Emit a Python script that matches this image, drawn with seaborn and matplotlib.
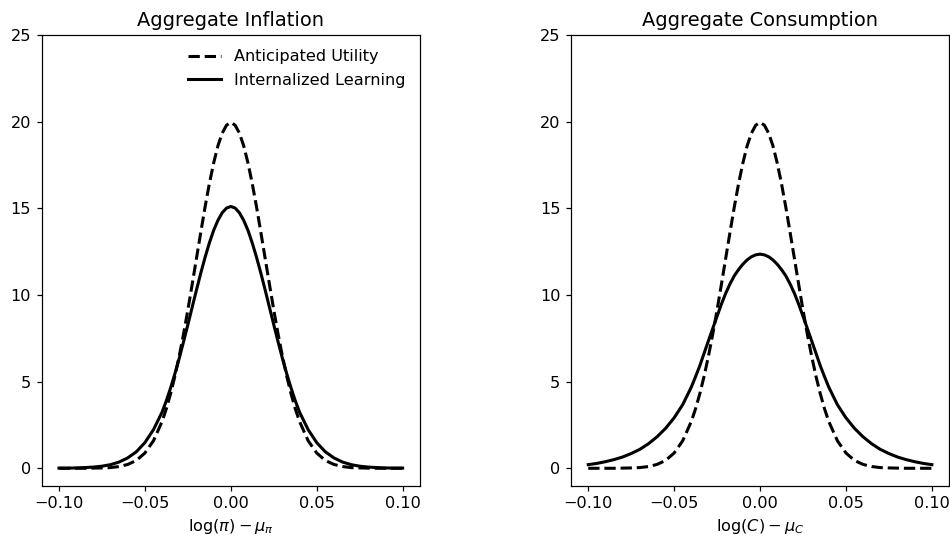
import numpy as np
import pandas as pd
import matplotlib
matplotlib.use("Agg")
import matplotlib.pyplot as plt
import seaborn as sns

# valeurs (densites symetriques autour de 0)
x_grid = [-0.1, -0.095, -0.09, -0.085, -0.08, -0.075, -0.07, -0.065, -0.06, -0.055,
          -0.05, -0.045, -0.04, -0.0375, -0.035, -0.0325, -0.03, -0.0275, -0.025,
          -0.0225, -0.02, -0.0175, -0.015, -0.0125, -0.01, -0.0075, -0.005, -0.0025,
          0.0,
          0.0025, 0.005, 0.0075, 0.01, 0.0125, 0.015, 0.0175, 0.02, 0.0225, 0.025,
          0.0275, 0.03, 0.0325, 0.035, 0.0375, 0.04, 0.045, 0.05, 0.055, 0.06,
          0.065, 0.07, 0.075, 0.08, 0.085, 0.09, 0.095, 0.1]

# Inflation - anticipated utility
infl_au = [0.0, 0.0, 0.0, 0.0, 0.01, 0.02, 0.04, 0.10, 0.22, 0.45,
           0.88, 1.59, 2.70, 3.44, 4.32, 5.33, 6.48, 7.75, 9.13,
           10.60, 12.10, 13.60, 15.06, 16.41, 17.60, 18.60, 19.33, 19.79,
           19.95,
           19.79, 19.33, 18.60, 17.60, 16.41, 15.06, 13.60, 12.10, 10.60, 9.13,
           7.75, 6.48, 5.33, 4.32, 3.44, 2.70, 1.59, 0.88, 0.45, 0.22,
           0.10, 0.04, 0.02, 0.01, 0.0, 0.0, 0.0, 0.0]

# Inflation - internalized learning
infl_il = [0.01, 0.01, 0.02, 0.04, 0.07, 0.12, 0.21, 0.36, 0.60, 0.95,
           1.48, 2.23, 3.24, 3.90, 4.65, 5.47, 6.35, 7.30, 8.28,
           9.28, 10.28, 11.25, 12.16, 12.99, 13.72, 14.30, 14.74, 15.01,
           15.10,
           15.01, 14.74, 14.30, 13.72, 12.99, 12.16, 11.25, 10.28, 9.28, 8.28,
           7.30, 6.35, 5.47, 4.65, 3.90, 3.24, 2.23, 1.48, 0.95, 0.60,
           0.36, 0.21, 0.12, 0.07, 0.04, 0.02, 0.01, 0.01]

# Consommation - anticipated utility
cons_au = [0.0, 0.0, 0.0, 0.0, 0.01, 0.02, 0.04, 0.10, 0.22, 0.45,
           0.88, 1.59, 2.70, 3.44, 4.32, 5.33, 6.48, 7.75, 9.13,
           10.60, 12.10, 13.60, 15.06, 16.41, 17.60, 18.60, 19.33, 19.79,
           19.95,
           19.79, 19.33, 18.60, 17.60, 16.41, 15.06, 13.60, 12.10, 10.60, 9.13,
           7.75, 6.48, 5.33, 4.32, 3.44, 2.70, 1.59, 0.88, 0.45, 0.22,
           0.10, 0.04, 0.02, 0.01, 0.0, 0.0, 0.0, 0.0]

# Consommation - internalized learning
cons_il = [0.21, 0.28, 0.38, 0.50, 0.65, 0.85, 1.09, 1.41, 1.81, 2.30,
           2.91, 3.67, 4.68, 5.29, 5.93, 6.65, 7.36, 8.07, 8.77,
           9.46, 10.09, 10.63, 11.10, 11.46, 11.77, 12.02, 12.20, 12.31,
           12.35,
           12.31, 12.20, 12.02, 11.77, 11.46, 11.10, 10.63, 10.09, 9.46, 8.77,
           8.07, 7.36, 6.65, 5.93, 5.29, 4.68, 3.67, 2.91, 2.30, 1.81,
           1.41, 1.09, 0.85, 0.65, 0.50, 0.38, 0.28, 0.21]

titles = ['Aggregate Inflation', 'Aggregate Consumption']
xlabels = [r'$\log(\pi) - \mu_\pi$', r'$\log(C) - \mu_C$']

#%% figure
plt.rcParams['font.size'] = 10.6
plt.rcParams['axes.titlesize'] = 12.7

fig, axes = plt.subplots(1, 2, figsize=(950 / 110, 536 / 110), dpi=110)
fig.subplots_adjust(left=0.044, right=0.999, bottom=0.094, top=0.935, wspace=0.40)

panels = [(infl_au, infl_il), (cons_au, cons_il)]
for k, ax in enumerate(axes):
    au, il = panels[k]
    sns.lineplot(x=x_grid, y=au, ax=ax, color='k', linestyle='--', lw=2,
                 label='Anticipated Utility')
    sns.lineplot(x=x_grid, y=il, ax=ax, color='k', linestyle='-', lw=2,
                 label='Internalized Learning')
    ax.set_ylim(-1, 25)
    ax.set_xlim(-0.11, 0.11)
    ax.set_xticks([-0.10, -0.05, 0.0, 0.05, 0.10])
    ax.set_yticks([0, 5, 10, 15, 20, 25])
    ax.set_title(titles[k])
    ax.set_xlabel(xlabels[k])
    ax.set_ylabel('')
    if k == 0:
        ax.legend(loc='upper right', frameon=False)
    else:
        ax.get_legend().remove()

fig.savefig('out.png', dpi=110)
